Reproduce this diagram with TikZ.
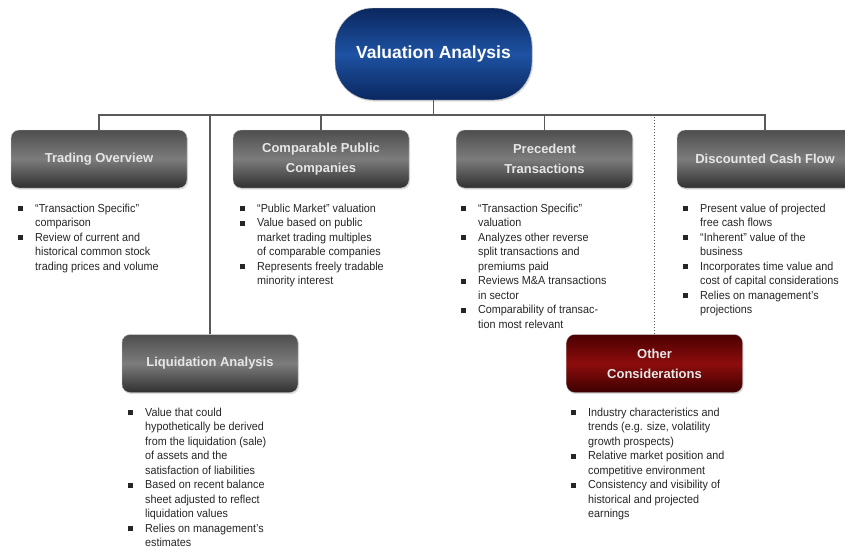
\documentclass[tikz,border=0pt]{standalone}
\usepackage{fontspec}
\setmainfont{Liberation Sans}
\newfontfamily\narrowfont[FakeStretch=0.93]{Liberation Sans}
\usetikzlibrary{shadows}
\definecolor{linegray}{HTML}{5A5A5A}
\definecolor{boxtop}{HTML}{4E4E4E}
\definecolor{boxmid}{HTML}{7C7C7C}
\definecolor{boxbot}{HTML}{303030}
\definecolor{redtop}{HTML}{4A0000}
\definecolor{redmid}{HTML}{8E0D0D}
\definecolor{redbot}{HTML}{3C0000}
\definecolor{bluetop}{HTML}{0A275F}
\definecolor{bluemid}{HTML}{1E52A2}
\definecolor{boxtext}{HTML}{E6E6E6}
\newcommand{\bl}{\rule[1pt]{5pt}{5pt}}
\tikzset{
  catbox/.style={rounded corners=8pt, minimum width=176pt, minimum height=58pt,
    top color=boxtop, bottom color=boxbot, middle color=boxmid,
    draw=white!80!black, line width=0.4pt, text=boxtext, align=center,
    font=\bfseries\fontsize{13}{20}\selectfont, inner sep=2pt,
    drop shadow={opacity=0.25, shadow xshift=1pt, shadow yshift=-1.5pt}},
  redbox/.style={catbox, top color=redtop, bottom color=redbot, middle color=redmid},
  titlebox/.style={rounded corners=38pt, minimum width=197pt, minimum height=92pt,
    top color=bluetop, bottom color=bluetop, middle color=bluemid,
    draw=white!80!black, line width=0.4pt, text=white,
    font=\bfseries\fontsize{17.5}{20}\selectfont,
    drop shadow={opacity=0.25, shadow xshift=1pt, shadow yshift=-1.5pt}},
  blist/.style={anchor=north west, inner sep=0pt, text=black!85,
    font=\narrowfont\fontsize{11.6}{14.5}\selectfont},
  conn/.style={draw=linegray, line width=1.1pt},
  dotconn/.style={draw=linegray, line width=1.1pt, dash pattern=on 1.5pt off 1.5pt}
}
\newenvironment{bitems}{\renewcommand\arraystretch{1}\begin{tabular}{@{}p{17pt}@{}l@{}}}{\end{tabular}}
\begin{document}
\begin{tikzpicture}[x=1pt,y=-1pt]
\useasboundingbox[fill=white] (0,0) rectangle (845,554);

\coordinate (hl) at (100,115);

\node[titlebox] (title) at (433.5,54) {Valuation Analysis};

\node[catbox] (trade) at (99,159) {Trading Overview};
\node[catbox] (comp) at (321,159) {Comparable Public\\Companies};
\node[catbox] (prec) at (544.5,159) {Precedent\\Transactions};
\node[catbox] (dcf) at (765,159) {Discounted Cash Flow};
\node[catbox] (liq) at (210,363.5) {Liquidation Analysis};
\node[redbox] (other) at (654.5,363.5) {Other\\Considerations};

\draw[conn] (title.south) -- (title.south |- hl);
\draw[conn] (trade.north) -- (trade.north |- hl) -- (dcf.north |- hl) -- (dcf.north);
\draw[conn] (comp.north) -- (comp.north |- hl);
\draw[conn] (prec.north) -- (prec.north |- hl);
\draw[conn] (liq.north) -- (liq.north |- hl);
\draw[dotconn] (other.north) -- (other.north |- hl);

\node[blist] (tradel) at (18,202) {\begin{bitems}
\bl & “Transaction Specific” \\
 & comparison \\
\bl & Review of current and \\
 & historical common stock \\
 & trading prices and volume
\end{bitems}};

\node[blist] (compl) at (240,202) {\begin{bitems}
\bl & “Public Market” valuation \\
\bl & Value based on public \\
 & market trading multiples \\
 & of comparable companies \\
\bl & Represents freely tradable \\
 & minority interest
\end{bitems}};

\node[blist] (precl) at (461,202) {\begin{bitems}
\bl & “Transaction Specific” \\
 & valuation \\
\bl & Analyzes other reverse \\
 & split transactions and \\
 & premiums paid \\
\bl & Reviews M\&A transactions \\
 & in sector \\
\bl & Comparability of transac- \\
 & tion most relevant
\end{bitems}};

\node[blist] (dcfl) at (683,202) {\begin{bitems}
\bl & Present value of projected \\
 & free cash flows \\
\bl & “Inherent” value of the \\
 & business \\
\bl & Incorporates time value and \\
 & cost of capital considerations \\
\bl & Relies on management’s \\
 & projections
\end{bitems}};

\node[blist] (liql) at (128,406) {\begin{bitems}
\bl & Value that could \\
 & hypothetically be derived \\
 & from the liquidation (sale) \\
 & of assets and the \\
 & satisfaction of liabilities \\
\bl & Based on recent balance \\
 & sheet adjusted to reflect \\
 & liquidation values \\
\bl & Relies on management’s \\
 & estimates
\end{bitems}};

\node[blist] (otherl) at (571,406) {\begin{bitems}
\bl & Industry characteristics and \\
 & trends (e.g. size, volatility \\
 & growth prospects) \\
\bl & Relative market position and \\
 & competitive environment \\
\bl & Consistency and visibility of \\
 & historical and projected \\
 & earnings
\end{bitems}};
\end{tikzpicture}
\end{document}
